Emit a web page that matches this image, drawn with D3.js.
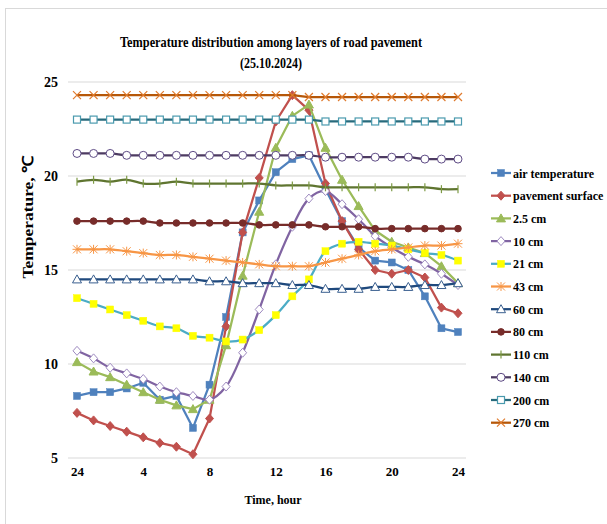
<!DOCTYPE html>
<html>
<head>
<meta charset="utf-8">
<style>
  body { margin: 0; background: #fff; }
  text { font-family: "Liberation Serif", "Times New Roman", serif; font-weight: bold; fill: #000; }
</style>
</head>
<body>
<svg width="607" height="524"></svg>
<script src="https://cdnjs.cloudflare.com/ajax/libs/d3/7.8.5/d3.min.js"></script>
<script>
// hour 15 is missing in the measurements
var hours = [24,1,2,3,4,5,6,7,8,9,10,11,12,13,14,16,17,18,19,20,21,22,23,24];
var hourTicks = [0,4,8,12,15,19,23];
var yTicks = [5,10,15,20,25];

var seriesNames = ["air temperature","pavement surface","2.5 cm","10 cm","21 cm","43 cm","60 cm","80 cm","110 cm","140 cm","200 cm","270 cm"];

var airTemp   = [8.3,8.5,8.5,8.7,9.0,8.1,8.3,6.6,8.9,12.5,17.0,18.7,20.2,20.9,21.1,19.3,17.6,16.2,15.5,15.4,15.0,13.6,11.9,11.7];
var surface   = [7.4,7.0,6.7,6.4,6.1,5.8,5.6,5.2,7.1,12.0,17.0,19.9,22.9,24.3,23.5,19.6,17.6,16.1,15.0,14.8,15.0,14.6,13.0,12.7];
var cm2_5     = [10.1,9.6,9.3,8.9,8.5,8.1,7.8,7.6,8.1,11.0,14.7,18.1,21.5,23.2,23.8,21.5,19.8,18.4,17.1,16.5,16.2,15.9,15.2,14.3];
var cm10      = [10.7,10.3,9.8,9.5,9.2,8.8,8.5,8.3,8.1,8.8,10.6,12.9,15.3,17.3,18.8,19.2,18.5,17.7,16.8,16.2,15.7,15.3,14.8,14.2];
var cm21      = [13.5,13.2,12.9,12.6,12.3,12.0,11.9,11.5,11.4,11.2,11.3,11.8,12.6,13.6,14.5,16.0,16.4,16.5,16.4,16.3,16.1,15.9,15.8,15.5];
var cm43      = [16.1,16.1,16.1,16.0,15.9,15.8,15.8,15.7,15.6,15.5,15.4,15.3,15.2,15.2,15.2,15.4,15.6,15.8,16.0,16.1,16.2,16.3,16.3,16.4];
var cm60      = [14.5,14.5,14.5,14.5,14.5,14.5,14.5,14.5,14.4,14.4,14.3,14.3,14.3,14.2,14.2,14.0,14.0,14.0,14.1,14.1,14.1,14.2,14.2,14.3];
var cm80      = [17.6,17.6,17.6,17.6,17.6,17.5,17.5,17.5,17.5,17.5,17.5,17.4,17.4,17.4,17.4,17.3,17.3,17.3,17.2,17.2,17.2,17.2,17.2,17.2];
var cm110     = [19.7,19.8,19.7,19.8,19.6,19.6,19.7,19.6,19.6,19.6,19.6,19.6,19.5,19.5,19.5,19.4,19.4,19.4,19.4,19.4,19.4,19.4,19.3,19.3];
var cm140     = [21.2,21.2,21.2,21.1,21.1,21.1,21.1,21.1,21.1,21.1,21.1,21.1,21.1,21.1,21.1,21.0,21.0,21.0,21.0,21.0,21.0,20.9,20.9,20.9];
var cm200     = [23.0,23.0,23.0,23.0,23.0,23.0,23.0,23.0,23.0,23.0,23.0,23.0,23.0,23.0,23.0,22.9,22.9,22.9,22.9,22.9,22.9,22.9,22.9,22.9];
var cm270     = [24.3,24.3,24.3,24.3,24.3,24.3,24.3,24.3,24.3,24.3,24.3,24.3,24.3,24.3,24.2,24.2,24.2,24.2,24.2,24.2,24.2,24.2,24.2,24.2];

var allValues = [airTemp,surface,cm2_5,cm10,cm21,cm43,cm60,cm80,cm110,cm140,cm200,cm270];

// line colour, marker type, marker fill, marker stroke, smoothed
var styles = [
  {c:"#4F81BD", m:"square",   f:"#4F81BD", s:"#4F81BD", smooth:false},
  {c:"#C0504D", m:"diamond",  f:"#C0504D", s:"#C0504D", smooth:false},
  {c:"#9BBB59", m:"triangle", f:"#9BBB59", s:"#9BBB59", smooth:false},
  {c:"#8064A2", m:"diamond",  f:"#fff",    s:"#9E8AC0", smooth:true},
  {c:"#4BACC6", m:"square",   f:"#FFFF00", s:"#FFFF00", smooth:true},
  {c:"#F79646", m:"star",     f:"none",    s:"#F79646", smooth:true},
  {c:"#1F497D", m:"triangle", f:"#fff",    s:"#3A5F8F", smooth:true},
  {c:"#772C2A", m:"circle",   f:"#772C2A", s:"#772C2A", smooth:true},
  {c:"#5F7530", m:"tick",     f:"none",    s:"#7D9A45", smooth:true},
  {c:"#4D3B62", m:"circle",   f:"#fff",    s:"#5E4B85", smooth:true},
  {c:"#276A7C", m:"square",   f:"#fff",    s:"#4A9AAE", smooth:false},
  {c:"#B65708", m:"cross",    f:"none",    s:"#E07B2E", smooth:false}
];

var svg = d3.select("svg");

// outer frame
svg.append("rect")
  .attr("x", 5.5).attr("y", 8.5)
  .attr("width", 610).attr("height", 530)
  .attr("fill", "none").attr("stroke", "#d9d9d9");

var x = d3.scalePoint().domain(d3.range(hours.length)).range([77, 458]);
var y = d3.scaleLinear().domain([5, 25]).range([458, 82]);

// gridlines
svg.append("g").selectAll("line")
  .data(yTicks).enter().append("line")
  .attr("x1", 68).attr("x2", 466)
  .attr("y1", d => y(d)).attr("y2", d => y(d))
  .attr("stroke", "#d9d9d9").attr("stroke-width", 1);

// axes, labels only
var yAxis = svg.append("g")
  .attr("transform", "translate(60,0)")
  .call(d3.axisLeft(y).tickValues(yTicks).tickSize(0).tickPadding(2));
yAxis.select(".domain").remove();
yAxis.selectAll("text").style("font-family", "Liberation Serif").style("font-weight", "bold").style("font-size", "14px");

var xAxis = svg.append("g")
  .attr("transform", "translate(0,467)")
  .call(d3.axisBottom(x).tickValues(hourTicks).tickFormat(i => hours[i]).tickSize(0).tickPadding(0));
xAxis.select(".domain").remove();
xAxis.selectAll("text").style("font-family", "Liberation Serif").style("font-weight", "bold").style("font-size", "13px");

// titles
svg.append("text").attr("x", 271).attr("y", 47).attr("text-anchor", "middle")
  .style("font-size", "15px").attr("textLength", 302).attr("lengthAdjust", "spacingAndGlyphs")
  .text("Temperature distribution among layers of road pavement");
svg.append("text").attr("x", 271).attr("y", 68).attr("text-anchor", "middle")
  .style("font-size", "15px").attr("textLength", 62).attr("lengthAdjust", "spacingAndGlyphs")
  .text("(25.10.2024)");
svg.append("text").attr("transform", "translate(33,217) rotate(-90)").attr("text-anchor", "middle")
  .style("font-size", "15px").attr("textLength", 123).attr("lengthAdjust", "spacingAndGlyphs")
  .text("Temperature, ℃");
svg.append("text").attr("x", 273).attr("y", 504).attr("text-anchor", "middle")
  .style("font-size", "12px")
  .text("Time, hour");

function drawMarker(sel, st) {
  if (st.m === "square") {
    var s = 7;
    sel.append("rect").attr("x", -s/2).attr("y", -s/2).attr("width", s).attr("height", s)
      .attr("fill", st.f).attr("stroke", st.s).attr("stroke-width", st.f === "#fff" ? 1.2 : 0.5);
  } else if (st.m === "diamond") {
    sel.append("path").attr("d", "M0,-4.5L4,0L0,4.5L-4,0Z")
      .attr("fill", st.f).attr("stroke", st.s).attr("stroke-width", 1);
  } else if (st.m === "triangle") {
    sel.append("path").attr("d", "M0,-4.5L4.5,3.5L-4.5,3.5Z")
      .attr("fill", st.f).attr("stroke", st.s).attr("stroke-width", 1);
  } else if (st.m === "circle") {
    sel.append("circle").attr("r", st.f === "#fff" ? 4 : 3.3)
      .attr("fill", st.f).attr("stroke", st.s).attr("stroke-width", 1);
  } else if (st.m === "star") {
    sel.append("path").attr("d", "M-4,-4L4,4M-4,4L4,-4M0,-4.5L0,4.5M-4.5,0L4.5,0")
      .attr("stroke", st.s).attr("stroke-width", 1);
  } else if (st.m === "cross") {
    sel.append("path").attr("d", "M-4,-4L4,4M-4,4L4,-4")
      .attr("stroke", st.s).attr("stroke-width", 1.2);
  } else if (st.m === "tick") {
    sel.append("path").attr("d", "M0,-4L0,4")
      .attr("stroke", st.s).attr("stroke-width", 1.2);
  }
}

// series
allValues.forEach(function (vals, k) {
  var st = styles[k];
  var line = d3.line()
    .x((d, i) => x(i))
    .y(d => y(d))
    .curve(st.smooth ? d3.curveCatmullRom.alpha(0.5) : d3.curveLinear);
  var g = svg.append("g");
  g.append("path").datum(vals)
    .attr("d", line)
    .attr("fill", "none").attr("stroke", st.c).attr("stroke-width", 2.25)
    .attr("stroke-linejoin", "round");
  g.selectAll("g.pt").data(vals).enter().append("g")
    .attr("class", "pt")
    .attr("transform", (d, i) => "translate(" + x(i) + "," + y(d) + ")")
    .each(function () { drawMarker(d3.select(this), st); });
});

// legend
var legend = svg.append("g");
seriesNames.forEach(function (name, k) {
  var st = styles[k];
  var ly = 173 + k * 22.7;
  var row = legend.append("g").attr("transform", "translate(0," + ly + ")");
  row.append("line").attr("x1", 491).attr("x2", 511).attr("y1", 0).attr("y2", 0)
    .attr("stroke", st.c).attr("stroke-width", 2.25);
  drawMarker(row.append("g").attr("transform", "translate(501,0)"), st);
  row.append("text").attr("x", 513).attr("y", 4.5)
    .style("font-size", "12px").text(name);
});
</script>
</body>
</html>
